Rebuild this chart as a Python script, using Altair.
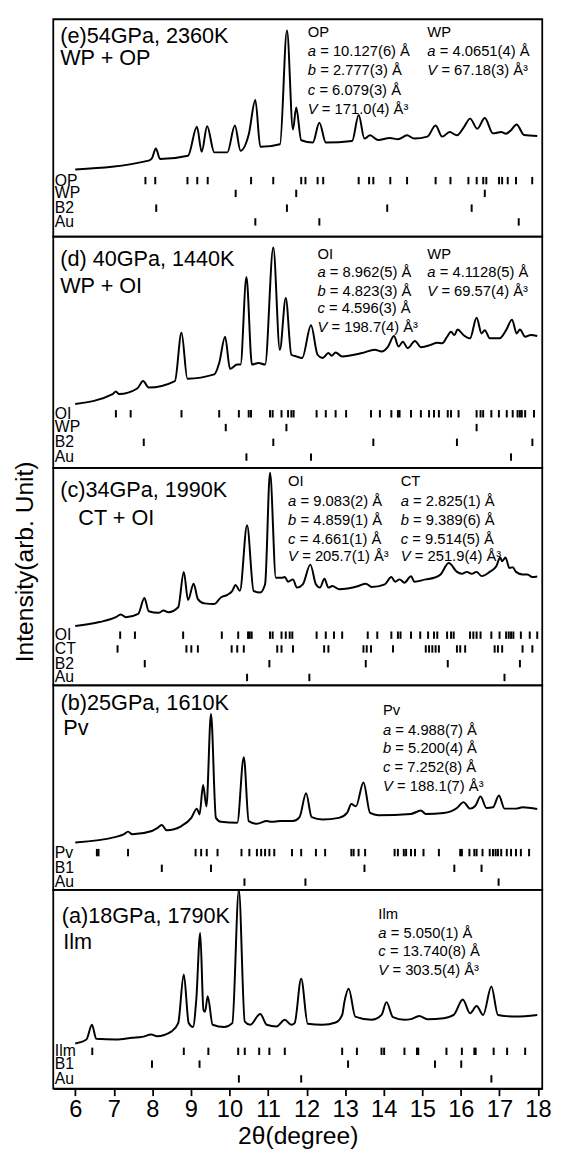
import altair as alt
import pandas as pd

FONT = "Liberation Sans"
X_DOMAIN = [5.43, 18.11]
PANEL_W = 497
PX_PER_DEG = PANEL_W / (X_DOMAIN[1] - X_DOMAIN[0])
ROW_LABEL_X = 5.47

# ---------------- (e) 54 GPa ----------------
E_X = [6.00, 7.905, 7.99, 8.09, 8.20, 8.925, 9.155, 9.28, 9.42, 9.605, 9.945, 10.14, 10.286, 10.50,
       10.67, 10.80, 11.31, 11.49, 11.646, 11.73, 11.86, 12.16, 12.33, 12.50, 13.18, 13.35, 13.50,
       13.645, 13.857, 14.155, 14.37, 14.605, 14.79, 15.13, 15.345, 15.515, 15.71, 15.90, 16.085,
       16.24, 16.425, 16.62, 16.83, 17.045, 17.17, 17.30, 17.445, 17.64, 17.98]
E_Y = [68.3, 77.3, 79.7, 89.7, 79.0, 82.3, 111.7, 86.3, 112.3, 85.7, 85.7, 113.0, 87.3, 104.0,
       139.0, 91.3, 94.0, 209.7, 109.0, 131.3, 98.0, 95.7, 115.7, 95.7, 97.3, 123.7, 99.7,
       103.0, 98.3, 100.3, 99.0, 103.0, 99.7, 101.7, 113.0, 101.7, 106.3, 103.0, 111.7,
       120.0, 109.7, 120.7, 105.0, 106.3, 104.7, 108.3, 114.0, 103.3, 102.3]
E_OP = [7.82, 8.075, 8.91, 9.165, 9.435, 10.56, 11.135, 11.86, 11.97, 12.285, 12.43, 13.35, 13.62,
        13.73, 14.17, 14.605, 15.345, 15.73, 16.195, 16.41, 16.58, 16.66, 16.99, 17.07, 17.215,
        17.43, 17.85]
E_WP = [10.16, 11.73, 16.62]
E_B2 = [8.10, 11.49, 14.09, 16.28]
E_AU = [10.67, 12.33, 17.50]

# ---------------- (d) 40 GPa ----------------
D_X = [6.00, 6.969, 7.054, 7.139, 7.607, 7.760, 7.905, 8.585, 8.755, 8.908, 9.605, 9.733, 9.886,
       10.014, 10.20, 10.286, 10.439, 10.583, 10.753, 10.923, 11.136, 11.306, 11.459, 11.604,
       11.731, 11.884, 12.114, 12.284, 12.412, 12.565, 12.65, 12.752, 12.922, 13.432, 13.772,
       13.942, 14.112, 14.265, 14.384, 14.495, 14.622, 14.81, 14.963, 15.218, 15.388, 15.515,
       15.643, 15.745, 15.83, 15.915, 16.068, 16.238, 16.408, 16.536, 16.621, 16.748, 17.003,
       17.173, 17.327, 17.446, 17.531, 17.667, 17.81, 17.98]
D_Y = [65.0, 75.0, 77.7, 75.0, 80.7, 88.3, 81.7, 88.3, 137.3, 90.7, 95.0, 106.7, 133.3,
       100.7, 105.0, 105.0, 194.0, 105.0, 106.7, 105.0, 224.0, 120.0, 172.7, 115.0,
       113.3, 111.7, 145.0, 115.0, 111.7, 116.7, 114.0, 117.3, 113.3, 116.7, 120.0,
       118.3, 123.3, 134.0, 123.3, 128.3, 121.7, 129.0, 122.7, 125.0, 127.3, 126.7,
       133.3, 138.3, 135.0, 140.7, 135.0, 131.7, 152.7, 136.7, 140.0, 131.7, 131.7,
       140.0, 150.7, 136.7, 140.7, 133.3, 135.0, 134.0]
D_OI = [7.054, 7.437, 8.755, 9.733, 10.243, 10.498, 10.558, 11.051, 11.119, 11.349, 11.519, 11.605,
        11.663, 12.259, 12.497, 12.752, 13.024, 13.67, 13.9, 14.197, 14.367, 14.41, 14.707, 14.963,
        15.175, 15.303, 15.43, 15.66, 15.745, 15.94, 16.408, 16.51, 16.578, 16.79, 16.986, 17.19,
        17.344, 17.47, 17.53, 17.58, 17.667, 17.896]
D_WP = [9.903, 11.476, 16.408]
D_B2 = [7.777, 11.136, 13.73, 15.898, 17.854]
D_AU = [10.439, 12.114, 17.301]

# ---------------- (c) 34 GPa ----------------
C_X = [6.0, 6.629, 7.054, 7.182, 7.31, 7.633, 7.794, 7.905, 8.16, 8.287, 8.415, 8.67, 8.815, 8.925,
       9.07, 9.18, 9.35, 9.605, 9.776, 9.946, 10.073, 10.158, 10.269, 10.456, 10.626, 10.796,
       10.923, 11.051, 11.204, 11.349, 11.434, 11.519, 11.646, 11.748, 11.901, 12.097, 12.241,
       12.344, 12.463, 12.565, 12.667, 12.837, 13.347, 13.534, 13.687, 14.027, 14.197, 14.299,
       14.41, 14.537, 14.707, 14.793, 15.09, 15.303, 15.473, 15.685, 15.898, 16.026, 16.153,
       16.281, 16.408, 16.536, 16.748, 16.918, 17.02, 17.071, 17.156, 17.259, 17.344, 17.429,
       17.599, 17.726, 17.854, 17.981]
C_Y = [60.3, 64.3, 69.3, 72.0, 69.3, 72.7, 88.7, 75.3, 73.7, 76.0, 74.3, 79.3, 115.3, 86.7,
       103.3, 87.7, 83.3, 82.7, 89.3, 92.0, 96.0, 102.0, 96.0, 162.7, 96.0, 94.3,
       102.7, 216.0, 109.3, 109.3, 110.0, 105.3, 107.7, 99.3, 102.7, 122.7, 102.7,
       99.3, 108.3, 99.3, 101.0, 97.7, 101.0, 103.3, 100.0, 102.7, 110.0, 105.3,
       107.7, 104.3, 111.0, 105.3, 107.7, 109.3, 112.7, 124.3, 115.3, 113.3, 115.3,
       113.3, 115.3, 111.0, 115.3, 121.0, 130.0, 126.0, 130.0, 119.3, 120.0, 115.3,
       112.7, 112.7, 110.0, 110.7]
C_OI = [7.165, 7.548, 8.798, 9.801, 10.226, 10.481, 10.524, 10.575, 11.051, 11.119, 11.349, 11.459,
        11.561, 11.629, 12.259, 12.497, 12.709, 12.922, 13.585, 13.832, 14.197, 14.367, 14.435,
        14.707, 14.946, 15.15, 15.303, 15.388, 15.643, 15.745, 15.813, 16.238, 16.323, 16.408,
        16.51, 16.79, 17.003, 17.173, 17.241, 17.301, 17.361, 17.556, 17.786, 17.98]
C_CT = [7.097, 8.883, 9.01, 9.18, 10.056, 10.201, 10.371, 11.238, 11.349, 11.646, 12.454, 12.565,
        13.474, 13.559, 13.67, 14.24, 15.09, 15.175, 15.26, 15.345, 15.43, 15.898, 15.983, 16.111,
        16.876, 16.961, 17.071, 17.599, 17.854]
C_B2 = [7.803, 11.034, 13.534, 15.66, 17.531]
C_AU = [10.456, 12.071, 17.131]

# ---------------- (b) 25 GPa ----------------
B_X = [6.0, 7.054, 7.267, 7.369, 7.48, 7.99, 8.117, 8.245, 8.372, 8.755, 9.01, 9.155, 9.223, 9.316,
       9.401, 9.52, 9.648, 9.776, 10.201, 10.371, 10.498, 10.711, 10.966, 11.094, 11.306, 11.646,
       11.816, 11.986, 12.131, 12.412, 12.837, 13.05, 13.16, 13.279, 13.474, 13.645, 13.857,
       14.707, 14.963, 15.09, 15.558, 15.898, 16.068, 16.238, 16.366, 16.51, 16.663, 16.833,
       16.986, 17.131, 17.429, 17.599, 17.981]
B_Y = [48.3, 54.0, 56.7, 59.3, 56.7, 60.0, 62.7, 66.0, 60.7, 65.0, 73.3, 82.7, 76.7, 106.7,
       85.0, 179.0, 73.3, 69.3, 68.3, 135.0, 70.0, 67.3, 70.0, 69.3, 70.0, 70.0,
       74.0, 98.3, 74.0, 71.7, 73.3, 78.3, 87.3, 85.0, 109.3, 78.3, 76.0,
       77.3, 80.7, 77.3, 78.3, 83.3, 89.3, 82.7, 85.0, 95.0, 83.3, 84.0,
       96.0, 82.7, 82.7, 84.0, 82.3]
B_PV = [6.561, 6.604, 7.369, 9.121, 9.265, 9.41, 9.69, 10.311, 10.515, 10.711, 10.821, 10.923,
        11.034, 11.161, 11.621, 11.859, 12.241, 12.48, 13.16, 13.219, 13.347, 13.517, 14.282,
        14.367, 14.52, 14.58, 14.707, 14.81, 15.031, 15.43, 15.983, 16.026, 16.221, 16.349,
        16.408, 16.561, 16.748, 16.833, 16.901, 16.961, 17.046, 17.19, 17.301, 17.429, 17.556,
        17.769]
B_B1 = [8.245, 9.52, 13.5, 15.83, 16.536]
B_AU = [10.388, 11.969, 16.978]

# ---------------- (a) 18 GPa ----------------
A_X = [6.0, 6.289, 6.434, 6.544, 7.054, 7.48, 7.735, 7.973, 8.117, 8.5, 8.67, 8.815, 8.942, 9.053,
       9.138, 9.24, 9.325, 9.367, 9.435, 9.563, 9.861, 10.073, 10.243, 10.396, 10.541, 10.796,
       10.966, 11.221, 11.434, 11.604, 11.689, 11.859, 12.029, 12.412, 12.752, 12.922, 12.98,
       13.092, 13.262, 13.687, 13.942, 14.07, 14.24, 14.537, 14.707, 14.92, 15.133, 15.558,
       15.813, 16.051, 16.238, 16.408, 16.578, 16.791, 16.961, 17.429, 17.981]
A_Y = [46.0, 50.0, 65.0, 50.7, 50.0, 51.7, 52.7, 55.0, 53.3, 58.3, 66.7, 116.0, 66.7, 62.7,
       90.0, 158.3, 80.0, 78.3, 94.0, 65.0, 62.7, 66.7, 202.0, 68.3, 65.0, 76.0,
       65.0, 63.3, 70.0, 65.0, 66.7, 111.7, 66.0, 65.0, 67.3, 75.0, 88.3,
       101.7, 73.3, 70.0, 75.0, 88.0, 72.7, 70.0, 70.7, 74.0, 70.7, 71.7,
       75.0, 90.7, 76.7, 84.0, 75.0, 104.0, 75.0, 73.3, 75.0]
A_ILM = [6.442, 8.815, 9.452, 10.226, 10.396, 10.77, 11.034, 11.434, 12.922, 13.304, 13.942, 14.01,
         14.537, 14.861, 14.895, 15.626, 16.026, 16.349, 16.383, 16.85, 17.199, 17.667]
A_B1 = [7.99, 9.223, 13.075, 15.328, 16.009]
A_AU = [10.243, 11.859, 16.791]

X_TICKS = list(range(6, 19))

PANELS = [
    dict(height=221, x=E_X, y=E_Y,
         rows=[("OP", 57, E_OP), ("WP", 44, E_WP), ("B2", 29, E_B2), ("Au", 15, E_AU)],
         titles=[("(e)54GPa, 2360K", 5.61, 197), ("WP + OP", 5.61, 174)],
         cols=[("OP", 12.03, 203, [("a", "= 10.127(6) Å", 184), ("b", "= 2.777(3) Å", 164),
                                   ("c", "= 6.079(3) Å", 144), ("V", "= 171.0(4) Å³", 125)]),
               ("WP", 15.13, 203, [("a", "= 4.0651(4) Å", 184), ("V", "= 67.18(3) Å³", 164)])]),
    dict(height=235, x=D_X, y=D_Y,
         rows=[("OI", 55, D_OI), ("WP", 41, D_WP), ("B2", 26, D_B2), ("Au", 11, D_AU)],
         titles=[("(d) 40GPa, 1440K", 5.61, 205), ("WP + OI", 5.61, 178)],
         cols=[("OI", 12.28, 212, [("a", "= 8.962(5) Å", 194), ("b", "= 4.823(3) Å", 175),
                                   ("c", "= 4.596(3) Å", 157), ("V", "= 198.7(4) Å³", 138)]),
               ("WP", 15.13, 212, [("a", "= 4.1128(5) Å", 194), ("V", "= 69.57(4) Å³", 175)])]),
    dict(height=221, x=C_X, y=C_Y,
         rows=[("OI", 51, C_OI), ("CT", 37, C_CT), ("B2", 22, C_B2), ("Au", 8, C_AU)],
         titles=[("(c)34GPa, 1990K", 5.61, 191), ("CT + OI", 6.08, 163)],
         cols=[("OI", 11.52, 203, [("a", "= 9.083(2) Å", 182), ("b", "= 4.859(1) Å", 163),
                                   ("c", "= 4.661(1) Å", 144), ("V", "= 205.7(1) Å³", 126)]),
               ("CT", 14.44, 203, [("a", "= 2.825(1) Å", 182), ("b", "= 9.389(6) Å", 163),
                                   ("c", "= 9.514(5) Å", 144), ("V", "= 251.9(4) Å³", 126)])]),
    dict(height=208, x=B_X, y=B_Y,
         rows=[("Pv", 38, B_PV), ("B1", 22, B_B1), ("Au", 8, B_AU)],
         titles=[("(b)25GPa, 1610K", 5.62, 183), ("Pv", 5.69, 158)],
         cols=[("Pv", 13.98, 178, [("a", "= 4.988(7) Å", 158), ("b", "= 5.200(4) Å", 139),
                                   ("c", "= 7.252(8) Å", 120), ("V", "= 188.1(7) Å³", 101)])]),
    dict(height=202, x=A_X, y=A_Y,
         rows=[("Ilm", 38, A_ILM), ("B1", 25, A_B1), ("Au", 10, A_AU)],
         titles=[("(a)18GPa, 1790K", 5.65, 168), ("Ilm", 5.69, 142)],
         cols=[("Ilm", 13.86, 173, [("a", "= 5.050(1) Å", 153), ("c", "= 13.740(8) Å", 135),
                                    ("V", "= 303.5(4) Å³", 116)])]),
]

LAT_FS = 15
ROW_FS = 16
# width of the italic letter plus a space, in px, at LAT_FS
LETTER_ADV = {"a": 12.6, "b": 12.6, "c": 11.8, "V": 14.3}


def build(p, bottom=False, ytitle=False):
    xs = alt.Scale(domain=X_DOMAIN, nice=False, zero=False)
    ys = alt.Scale(domain=[0, p["height"]], nice=False, zero=False)
    if bottom:
        xaxis = alt.Axis(values=X_TICKS, format="d", grid=False, tickSize=7, tickWidth=1.8,
                         tickColor="black", domainColor="black", domainWidth=1.8,
                         labelFont=FONT, labelFontSize=24, labelColor="black", labelPadding=2,
                         labelFlush=False, title="2θ(degree)", titleFont=FONT, titleFontSize=25,
                         titleFontWeight="normal", titleColor="black", titlePadding=3)
    else:
        xaxis = None
    if ytitle:
        yaxis = alt.Axis(title="Intensity(arb. Unit)", labels=False, ticks=False, domain=False,
                         grid=False, titleFont=FONT, titleFontSize=25, titleFontWeight="normal",
                         titleColor="black", titlePadding=16, titleY=95)
    else:
        yaxis = None

    def enc(ch):
        return ch.encode(x=alt.X("x:Q", scale=xs, axis=xaxis), y=alt.Y("y:Q", scale=ys, axis=yaxis))

    curve = enc(alt.Chart(pd.DataFrame({"x": p["x"], "y": p["y"]})).mark_line(
        color="black", strokeWidth=2, interpolate="monotone"))

    tick_df = pd.DataFrame([{"x": v, "y": h} for (_, h, vals) in p["rows"] for v in vals])
    ticks = enc(alt.Chart(tick_df).mark_tick(orient="vertical", size=7.5, thickness=2,
                                             color="black", opacity=1))

    lab_df = pd.DataFrame([{"x": ROW_LABEL_X, "y": h, "t": lab} for (lab, h, _) in p["rows"]])
    labels = enc(alt.Chart(lab_df).mark_text(align="left", baseline="middle", font=FONT,
                                             fontSize=ROW_FS, color="black")).encode(text="t:N")

    tdf = pd.DataFrame([{"x": x, "y": y, "t": t} for (t, x, y) in p["titles"]])
    titles = enc(alt.Chart(tdf).mark_text(align="left", baseline="alphabetic", font=FONT,
                                          fontSize=22, color="black")).encode(text="t:N")

    norm_rows, ital_rows = [], []
    for (head, cx, hy, lines) in p["cols"]:
        norm_rows.append({"x": cx, "y": hy, "t": head})
        for (letter, rest, ly) in lines:
            ital_rows.append({"x": cx, "y": ly, "t": letter})
            norm_rows.append({"x": cx + LETTER_ADV[letter] / PX_PER_DEG, "y": ly, "t": rest})
    lat_n = enc(alt.Chart(pd.DataFrame(norm_rows)).mark_text(
        align="left", baseline="alphabetic", font=FONT, fontSize=LAT_FS, color="black")).encode(text="t:N")
    lat_i = enc(alt.Chart(pd.DataFrame(ital_rows)).mark_text(
        align="left", baseline="alphabetic", font=FONT, fontSize=LAT_FS, fontStyle="italic",
        color="black")).encode(text="t:N")

    return alt.layer(curve, ticks, labels, titles, lat_n, lat_i).properties(
        width=PANEL_W, height=p["height"])


charts = [build(p, bottom=(i == len(PANELS) - 1), ytitle=(i == 2)) for i, p in enumerate(PANELS)]

chart = alt.vconcat(*charts, spacing=0, bounds="flush").resolve_scale(
    x="independent", y="independent"
).properties(
    padding={"left": 4, "top": 1, "right": 5, "bottom": 0}
).configure_view(
    stroke="black", strokeWidth=1.8
)

chart.save("out.html", embed_options={"renderer": "svg", "actions": False})
